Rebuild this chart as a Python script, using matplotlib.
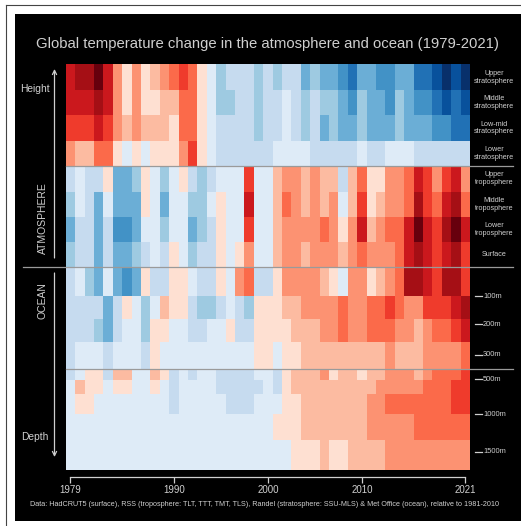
import numpy as np
import matplotlib
matplotlib.use("Agg")
import matplotlib.pyplot as plt
from matplotlib.colors import ListedColormap, BoundaryNorm
from matplotlib.patches import Rectangle, FancyArrowPatch

plt.rcParams["font.family"] = ["Liberation Sans", "DejaVu Sans"]

years = np.arange(1979, 2022)

# Anomaly class for each year and layer: -8 (coldest) ... +8 (warmest)
upper_stratosphere = [6, 7, 7, 8, 6, 3, 1, 3, 1, 2, 3, 4, 5, 4, 1, -1, -3, -2, -2, -2, -3, -2, -3, -2, -2, -4, -3, -4, -4, -5, -6, -4, -4, -5, -5, -4, -4, -6, -6, -7, -8, -7, -8]
middle_stratosphere = [6, 6, 6, 7, 6, 3, 1, 3, 1, 1, 2, 2, 4, 4, 1, -1, -3, -3, -2, -2, -3, -2, -2, -1, -2, -3, -2, -3, -3, -4, -5, -3, -4, -4, -5, -3, -4, -5, -5, -6, -7, -6, -7]
lowmid_stratosphere = [5, 5, 5, 6, 5, 3, 2, 3, 2, 2, 2, 1, 4, 4, 1, -1, -2, -2, -2, -2, -3, -2, -2, -1, -2, -3, -2, -4, -3, -4, -4, -3, -4, -4, -4, -3, -4, -4, -4, -5, -5, -6, -6]
lower_stratosphere = [3, 2, 2, 4, 4, 1, -1, 1, -1, 1, 1, 1, 3, 5, 1, -1, -2, -2, -2, -2, -2, -2, -1, -1, -1, -1, -2, -2, -2, -2, -2, -1, -2, -2, -1, -1, -1, -2, -2, -2, -2, -2, -2]
upper_troposphere = [-2, -1, -2, -2, 1, -4, -4, -3, 1, -1, -3, -1, 1, -2, -3, -2, -1, -1, -1, 5, -1, -1, 2, 3, 3, 2, 3, 2, 2, -2, 2, 4, 1, 1, 3, 3, 4, 6, 5, 3, 5, 6, 3]
middle_troposphere = [-3, -1, -2, -4, -1, -4, -4, -4, 1, -1, -4, -1, -1, -3, -3, -1, 1, -1, -1, 6, -1, -1, 2, 4, 3, 2, 3, 2, 3, -1, 2, 5, 1, 2, 3, 3, 4, 7, 5, 4, 6, 7, 4]
lower_troposphere = [-4, -2, -2, -4, -2, -5, -5, -4, -1, -1, -3, -1, -1, -4, -3, -2, 1, -1, -1, 5, -1, -1, 2, 3, 3, 3, 3, 4, 3, 1, 3, 6, 2, 3, 4, 4, 6, 8, 6, 5, 7, 8, 6]
surface = [-3, -2, -2, -4, -2, -4, -4, -3, -2, -1, -2, 1, -1, -3, -2, -2, 1, -1, 1, 3, -1, -1, 2, 3, 3, 2, 3, 3, 3, 2, 3, 4, 3, 3, 3, 4, 6, 7, 6, 5, 6, 7, 5]
ocean_0_100 = [-2, -1, -3, -4, -1, -4, -5, -4, 1, -2, -2, 1, 1, -1, -2, -2, 1, -1, 3, 4, -2, -2, 1, 3, 3, 3, 3, 2, 1, -1, 3, 3, 1, 2, 3, 4, 7, 7, 6, 5, 7, 7, 5]
ocean_100_200 = [-2, -2, -2, -2, -4, -2, 1, -1, -3, -1, 2, 1, 1, -2, -3, -3, -2, -1, -2, -3, 1, 1, 1, 2, 2, 3, 3, 3, 3, 4, 3, 3, 4, 4, 5, 4, 3, 3, 5, 5, 5, 6, 7]
ocean_200_300 = [-2, -2, -2, -3, -4, -2, -1, -1, -3, 1, 1, -1, -1, -2, -2, -1, -1, 1, -2, -2, 1, 1, 1, 1, 2, 2, 2, 3, 3, 4, 3, 3, 4, 4, 4, 3, 3, 2, 3, 4, 4, 5, 6]
ocean_300_400 = [-2, -1, -1, -1, -2, -1, -1, -1, -2, 1, -1, -1, -1, -1, -1, -1, -1, -1, -1, -1, 1, 1, -1, 1, 1, 2, 2, 2, 2, 2, 2, 2, 2, 2, 3, 2, 2, 2, 3, 3, 3, 3, 4]
ocean_400_500 = [-2, -1, 1, 1, -2, 2, 2, -1, -1, 2, 1, -2, -1, -2, -1, -1, -2, -2, -2, -2, -1, -1, -2, 1, 2, 2, 2, 3, 1, 2, 2, 1, 2, 2, 3, 3, 3, 2, 3, 4, 4, 4, 5]
ocean_500_700 = [-1, 2, 1, 1, -1, 1, 1, -1, -1, 1, -1, -2, -1, -1, -1, -1, -2, -2, -2, -2, -2, -1, -2, 1, 2, 2, 2, 2, 2, 2, 2, 2, 2, 3, 3, 3, 3, 3, 4, 4, 4, 5, 5]
ocean_700_1000 = [-1, 1, 1, -1, -1, -1, -1, -1, -1, -1, -1, -2, -1, -1, -1, -1, -1, -2, -2, -2, -1, -1, -1, 1, 1, 2, 2, 2, 2, 2, 2, 2, 3, 3, 4, 4, 4, 4, 4, 4, 4, 5, 5]
ocean_1000_1400 = [-1] * 22 + [1, 1, 1, 2, 2, 2, 2, 2, 2, 2, 3, 3, 3, 3, 3, 4, 4, 4, 4, 4, 4]
ocean_1400_2000 = [-1] * 24 + [1, 1, 1, 2, 1, 1, 2, 2, 2, 2, 3, 3, 3, 3, 3, 3, 3, 3, 3]

layers = [upper_stratosphere, middle_stratosphere, lowmid_stratosphere,
          lower_stratosphere, upper_troposphere, middle_troposphere,
          lower_troposphere, surface, ocean_0_100, ocean_100_200,
          ocean_200_300, ocean_300_400, ocean_400_500, ocean_500_700,
          ocean_700_1000, ocean_1000_1400, ocean_1400_2000]

atmos_labels = ["Upper\nstratosphere", "Middle\nstratosphere",
                "Low-mid\nstratosphere", "Lower\nstratosphere",
                "Upper\ntroposphere", "Middle\ntroposphere",
                "Lower\ntroposphere", "Surface"]
depth_labels = ["100m", "200m", "300m", "500m", "1000m", "1500m"]
year_ticks = [1979, 1990, 2000, 2010, 2021]

TITLE = "Global temperature change in the atmosphere and ocean (1979-2021)"
CAPTION = ("Data: HadCRUT5 (surface), RSS (troposphere: TLT, TTT, TMT, TLS), "
           "Randel (stratosphere: SSU-MLS) & Met Office (ocean), relative to 1981-2010")

# ---- layout (figure pixels) ----
W, H = 521, 526
row_heights = [25.7, 25.3, 25.4, 25.0, 26.0, 25.0, 25.0, 25.6,
               28.4, 23.3, 22.5, 27.5, 11.0, 14.3, 20.0, 25.7, 30.0]
depth_tick_y = [296, 324, 354.7, 379.3, 414, 451.7]
hm_left, hm_right, hm_top = 65.7, 470.0, 64.3
hm_bottom = hm_top + sum(row_heights)

palette = ["#08306b", "#08519c", "#2171b5", "#4292c6", "#6baed6", "#9ecae1",
           "#c6dbef", "#deebf7", "#fee0d2", "#fcbba1", "#fc9272", "#fb6a4a",
           "#ef3b2c", "#cb181d", "#a50f15", "#67000d"]
cmap = ListedColormap(palette)
bounds = [-8.5, -7.5, -6.5, -5.5, -4.5, -3.5, -2.5, -1.5, 0,
          1.5, 2.5, 3.5, 4.5, 5.5, 6.5, 7.5, 8.5]
norm = BoundaryNorm(bounds, cmap.N)

TXT = "#cfcfcf"
LINE = "#9a9a9a"

fig = plt.figure(figsize=(W / 100, H / 100), dpi=100)
fig.patch.set_facecolor("white")

# background panel
bg = fig.add_axes([0, 0, 1, 1], zorder=0)
bg.set_xlim(0, W)
bg.set_ylim(H, 0)
bg.axis("off")
bg.add_patch(Rectangle((15, 14), W - 15, 507, facecolor="black", edgecolor="none"))
bg.plot([6, 6], [5, H], color="#444444", lw=0.8)
bg.plot([6, W], [5, 5], color="#444444", lw=0.8)

# heatmap
ax = fig.add_axes([hm_left / W, 1 - hm_bottom / H,
                   (hm_right - hm_left) / W, (hm_bottom - hm_top) / H], zorder=1)
x_edges = np.append(years - 0.5, years[-1] + 0.5)
y_edges = np.concatenate([[0], np.cumsum(row_heights)])
Z = np.array(layers, dtype=float)
ax.pcolormesh(x_edges, y_edges, Z, cmap=cmap, norm=norm, edgecolors="none")
ax.set_xlim(x_edges[0], x_edges[-1])
ax.set_ylim(y_edges[-1], 0)
ax.set_facecolor("black")
for s in ["top", "right", "left"]:
    ax.spines[s].set_visible(False)
ax.spines["bottom"].set_position(("outward", 5.3))
ax.spines["bottom"].set_bounds(years[0], years[-1])
ax.spines["bottom"].set_color(TXT)
ax.spines["bottom"].set_linewidth(0.9)
ax.set_yticks([])
ax.set_xticks(year_ticks)
ax.set_xticklabels([str(y) for y in year_ticks])
ax.tick_params(axis="x", direction="out", length=4.3, width=0.9,
               color=TXT, labelcolor=TXT, labelsize=7, pad=1.5)

# overlay for annotations
fg = fig.add_axes([0, 0, 1, 1], zorder=2)
fg.set_xlim(0, W)
fg.set_ylim(H, 0)
fg.axis("off")
fg.patch.set_alpha(0)

fg.text(267.5, 44, TITLE, color=TXT, fontsize=10.75, ha="center", va="center")
fg.text(264, 504.5, CAPTION, color=TXT, fontsize=5.22, ha="center", va="center")

# section separators
fg.plot([hm_left, 513], [hm_top + sum(row_heights[:4])] * 2, color=LINE, lw=0.9)
fg.plot([23, 513], [hm_top + sum(row_heights[:8])] * 2, color=LINE, lw=0.9)
fg.plot([hm_left, 513], [hm_top + sum(row_heights[:12])] * 2, color=LINE, lw=0.9)

# atmospheric layer labels
edges_px = hm_top + y_edges
for i, lab in enumerate(atmos_labels):
    yc = (edges_px[i] + edges_px[i + 1]) / 2
    fg.text(494, yc, lab, color=TXT, fontsize=5.2, ha="center", va="center",
            linespacing=1.15)

# depth ticks
for yt, lab in zip(depth_tick_y, depth_labels):
    fg.plot([475, 482], [yt, yt], color=TXT, lw=0.9)
    fg.text(483, yt, lab, color=TXT, fontsize=5.4, ha="left", va="center")

# height / depth arrows
fg.add_patch(FancyArrowPatch((54.5, 258), (54.5, 69), arrowstyle="->,head_length=3,head_width=1.5",
                             color=TXT, lw=0.9, shrinkA=0, shrinkB=0))
fg.add_patch(FancyArrowPatch((54.5, 273), (54.5, 457), arrowstyle="->,head_length=3,head_width=1.5",
                             color=TXT, lw=0.9, shrinkA=0, shrinkB=0))
fg.text(35, 88.5, "Height", color=TXT, fontsize=7.4, ha="center", va="center")
fg.text(35, 436.5, "Depth", color=TXT, fontsize=7.4, ha="center", va="center")
fg.text(42.7, 218.5, "ATMOSPHERE", color=TXT, fontsize=7.5, ha="center",
        va="center", rotation=90)
fg.text(42.7, 300.5, "OCEAN", color=TXT, fontsize=7.5, ha="center",
        va="center", rotation=90)

fig.savefig("out.png", dpi=100, facecolor=fig.get_facecolor())
